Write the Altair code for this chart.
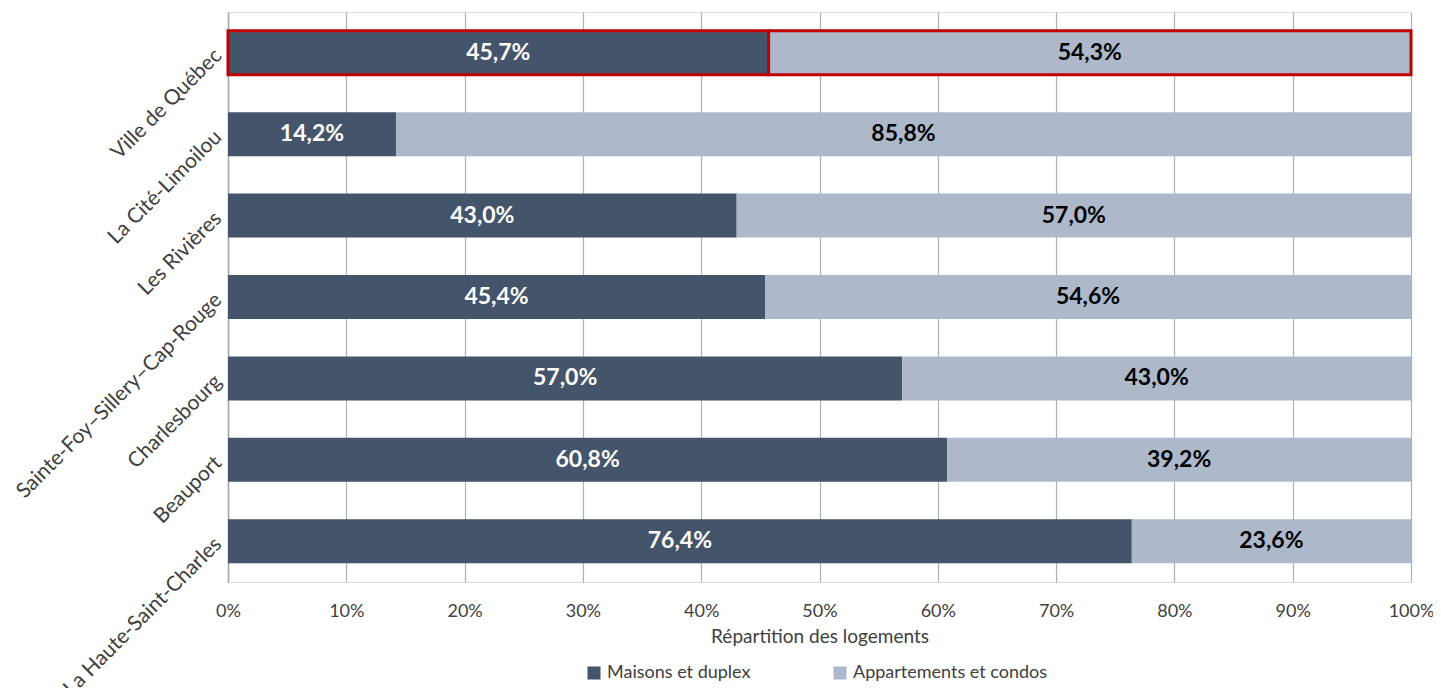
import altair as alt
import pandas as pd

categories = ["Ville de Québec", "La Cité-Limoilou", "Les Rivières",
              "Sainte-Foy–Sillery–Cap-Rouge", "Charlesbourg", "Beauport",
              "La Haute-Saint-Charles"]
maisons = [45.7, 14.2, 43.0, 45.4, 57.0, 60.8, 76.4]
appartements = [54.3, 85.8, 57.0, 54.6, 43.0, 39.2, 23.6]
series = ["Maisons et duplex", "Appartements et condos"]
colors = ["#44546A", "#ADB9CA"]
x_ticks = [0, 10, 20, 30, 40, 50, 60, 70, 80, 90, 100]

rows = []
for c, m, a in zip(categories, maisons, appartements):
    rows.append({"cat": c, "series": series[0], "value": m, "ord": 0})
    rows.append({"cat": c, "series": series[1], "value": a, "ord": 1})
df = pd.DataFrame(rows)

FONT = "Lato"

base = alt.Chart(df).transform_stack(
    stack="value", as_=["x0", "x1"], groupby=["cat"], sort=[alt.SortField("ord")]
).transform_calculate(
    mid="(datum.x0 + datum.x1) / 2",
    label="replace(format(datum.value, '.1f'), '.', ',') + '%'"
)

y_enc = alt.Y("cat:N", sort=categories, title=None,
              scale=alt.Scale(paddingInner=0.46, paddingOuter=0.23),
              axis=alt.Axis(labelAngle=-45, labelAlign="right", labelBaseline="middle",
                            labelFontSize=21, labelColor="#404040", labelFont=FONT,
                            labelPadding=10, ticks=False, domainColor="#a6a6a6",
                            domainWidth=1.5, labelLimit=500))

bars = base.mark_bar().encode(
    x=alt.X("x0:Q", scale=alt.Scale(domain=[0, 100], nice=False),
            title="Répartition des logements",
            axis=alt.Axis(values=x_ticks, labelExpr="datum.value + '%'",
                          labelFontSize=18, labelColor="#404040", labelFont=FONT,
                          labelFlush=False,
                          titleFontSize=19, titleColor="#404040", titleFont=FONT,
                          titleFontWeight="normal", titlePadding=7,
                          labelPadding=20, ticks=False, domain=False,
                          grid=True, gridColor="#b0b0b0", gridWidth=1.2)),
    x2="x1:Q",
    y=y_enc,
    color=alt.Color("series:N", sort=series,
                    scale=alt.Scale(domain=series, range=colors),
                    legend=alt.Legend(title=None, orient="none", direction="horizontal",
                                      legendX=357, legendY=652,
                                      symbolType="square", symbolSize=170,
                                      symbolStrokeWidth=0,
                                      labelFontSize=18, labelColor="#404040",
                                      labelFont=FONT, columnPadding=80,
                                      labelLimit=400)),
    stroke=alt.condition(alt.datum.cat == "Ville de Québec",
                         alt.value("#C00000"), alt.value("transparent")),
    strokeWidth=alt.condition(alt.datum.cat == "Ville de Québec",
                              alt.value(3), alt.value(0)),
)

text = base.mark_text(font=FONT, fontSize=23, fontWeight="bold").encode(
    x=alt.X("mid:Q"),
    y=alt.Y("cat:N", sort=categories),
    text="label:N",
    color=alt.condition(alt.datum.series == "Maisons et duplex",
                        alt.value("white"), alt.value("black")),
)

chart = (bars + text).properties(
    width=1183, height=570,
    autosize=alt.AutoSizeParams(type="none"),
    padding={"left": 220, "top": 4, "right": 22, "bottom": 106},
).configure_view(stroke=None).configure(background="white")

chart.save("out.html", embed_options={"renderer": "svg", "actions": False})
